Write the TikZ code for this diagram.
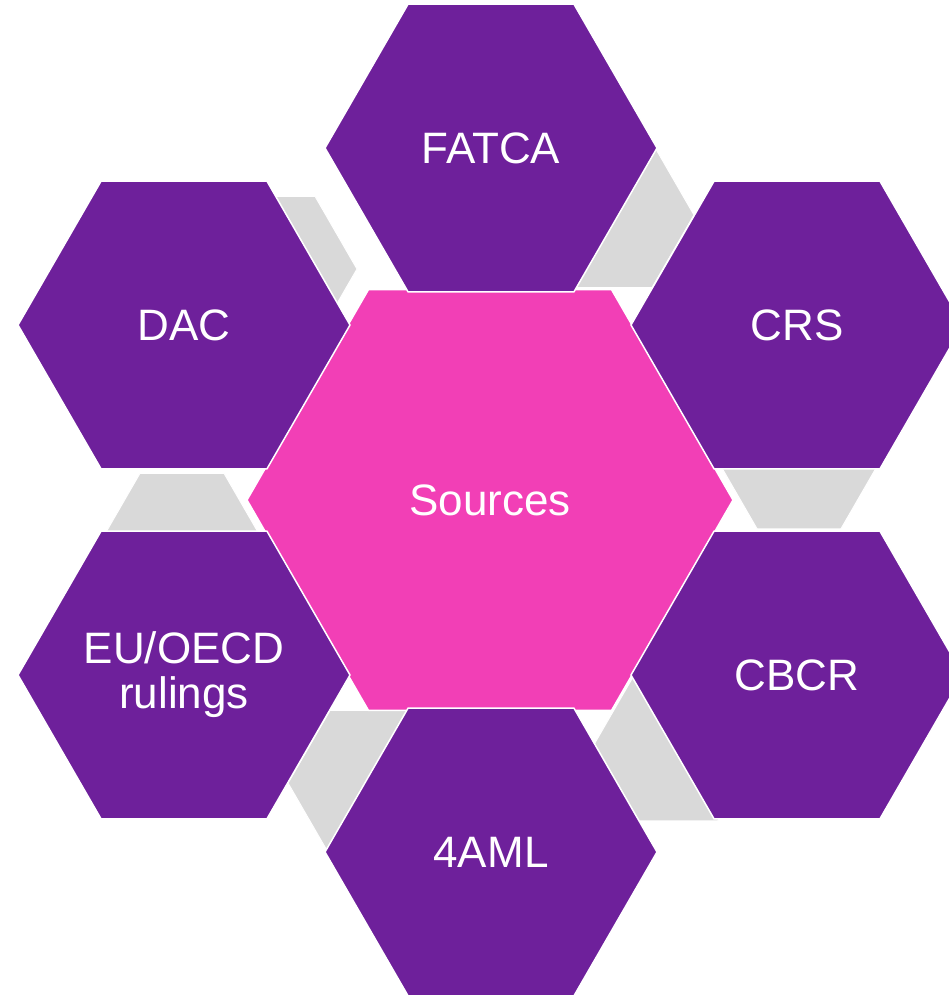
\documentclass[tikz,border=0pt]{standalone}
\usepackage{fontspec}
\setmainfont{Liberation Sans}
\usetikzlibrary{shapes.geometric}
\definecolor{hexpurple}{HTML}{6E209B}
\definecolor{hexpink}{HTML}{F23FB6}
\definecolor{hexgray}{HTML}{D9D9D9}
\tikzset{
    hex/.style={regular polygon, regular polygon sides=6, inner sep=0pt, outer sep=0pt, draw=white, line width=1.5pt},
    topic hex/.style={hex, fill=hexpurple, minimum size=332pt, text=white, align=center, font=\fontsize{44}{45}\selectfont},
    source hex/.style={hex, fill=hexpink, minimum size=486pt, text=white, font=\fontsize{44}{46}\selectfont},
    link hex/.style={hex, fill=hexgray, minimum size=168pt, line width=1pt},
}

\begin{document}
\begin{tikzpicture}[x=1pt, y=-1pt]
    \useasboundingbox (0,0) rectangle (948,995);
    % grey links, half hidden behind the ring
    \foreach \gx/\gy [count=\i] in {273/269, 610/215, 799/456, 676/748, 372/783, 182/546}
        \node[link hex] (link\i) at (\gx,\gy) {};
    \node[source hex] (sources) at (490,500) {Sources};
    \node[topic hex] (fatca) at (491,148) {FATCA};
    \node[topic hex] (crs) at (797,325) {CRS};
    \node[topic hex] (cbcr) at (797,675) {CBCR};
    \node[topic hex] (aml) at (491,852) {4AML};
    \node[topic hex] (rulings) at (184,675) {EU/OECD\\rulings};
    \node[topic hex] (dac) at (184,325) {DAC};
\end{tikzpicture}
\end{document}
